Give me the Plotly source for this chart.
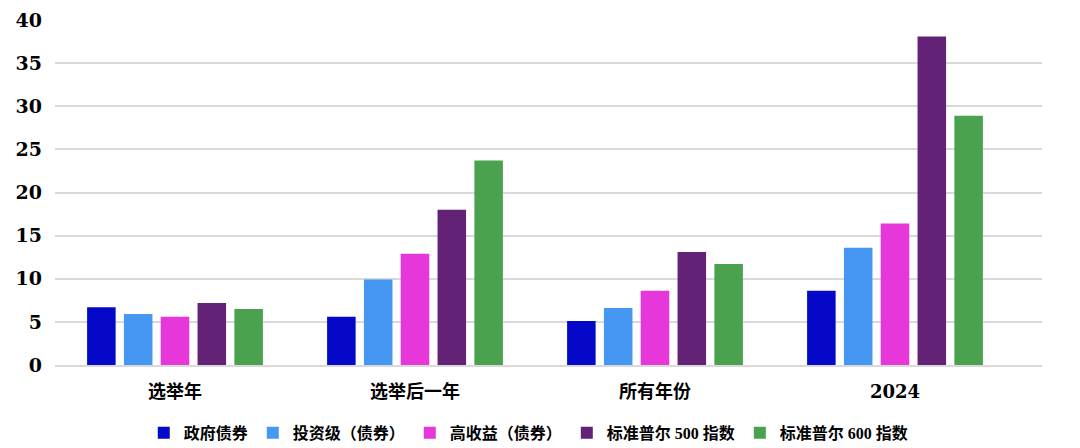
import plotly.graph_objects as go

categories = ["选举年", "选举后一年", "所有年份", "2024"]
series_names = ["政府债券", "投资级（债券）", "高收益（债券）", "标准普尔 500 指数", "标准普尔 600 指数"]
gov = [6.7, 5.6, 5.1, 8.6]
ig = [5.9, 9.9, 6.6, 13.6]
hy = [5.6, 12.9, 8.6, 16.4]
sp500 = [7.2, 18.0, 13.1, 38.1]
sp600 = [6.5, 23.7, 11.7, 28.9]
y_ticks = [0, 5, 10, 15, 20, 25, 30, 35, 40]

colors = ["#0508C8", "#4597F1", "#E736DA", "#622376", "#4AA24F"]
values = [gov, ig, hy, sp500, sp600]

fig = go.Figure()
for name, vals, c in zip(series_names, values, colors):
    fig.add_trace(go.Bar(x=categories, y=vals, name=name, marker_color=c,
                         marker_line_width=0))

fig.update_layout(
    width=1080, height=448,
    margin=dict(l=55, r=38, t=20, b=83, autoexpand=False),
    plot_bgcolor="white", paper_bgcolor="white",
    barmode="group", bargap=0.233, bargroupgap=0.225,
    font=dict(family="Noto Sans CJK SC", color="black"),
    legend=dict(orientation="h", x=0.48, xanchor="center", y=-0.197, yanchor="middle",
                font=dict(family="Liberation Serif, Noto Sans CJK SC", size=16, weight="bold"),
                itemwidth=30, traceorder="normal"),
    showlegend=True,
)
fig.update_yaxes(range=[0, 40], tickvals=y_ticks, showgrid=True, gridcolor="#d9d9d9",
                 gridwidth=2, zeroline=False, showline=False, automargin=False,
                 tickfont=dict(family="DejaVu Serif", size=19, weight="bold", color="black"),
                 ticklabelstandoff=12)
fig.update_xaxes(range=[-0.5, 3.6125], showline=True, linecolor="#d9d9d9", linewidth=2,
                 automargin=False,
                 tickfont=dict(family="DejaVu Serif, Noto Sans CJK SC", size=18, weight="bold", color="black"),
                 ticklabelstandoff=9, ticks="")

fig.write_html("out.html")
